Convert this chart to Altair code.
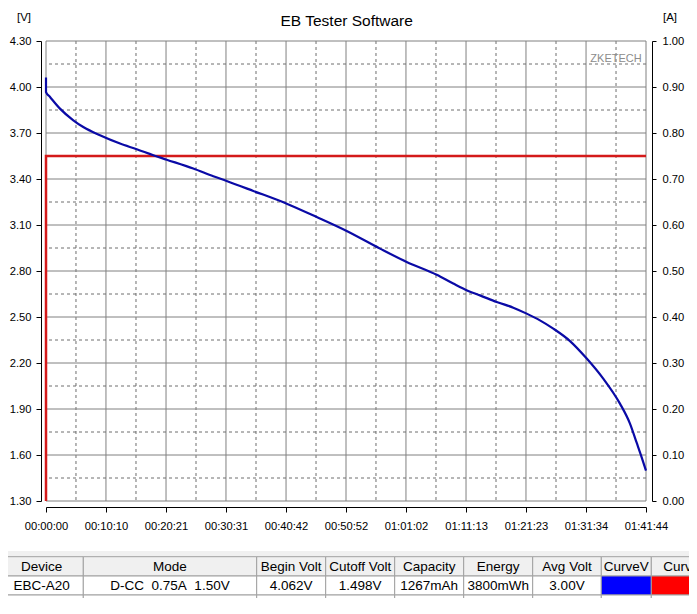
import json
import altair as alt
import pandas as pd

# ---------------- data ----------------
title_text = "EB Tester Software"
v_unit = "[V]"
a_unit = "[A]"
watermark = "ZKETECH"

# voltage curve (seconds, volts)
time_s = [0, 0, 41, 142, 278, 379, 549, 753, 923, 1092, 1228, 1498, 1702, 1838,
          2109, 2449, 2754, 3059, 3398, 3669, 3975, 4143, 4296, 4415, 4585, 4754,
          4890, 5025, 5161, 5331, 5501, 5669, 5839, 5941, 6009, 6060, 6104]
volts = [4.062, 3.967, 3.935, 3.859, 3.783, 3.739, 3.685, 3.631, 3.594, 3.555,
         3.526, 3.468, 3.418, 3.387, 3.322, 3.239, 3.152, 3.061, 2.946, 2.859,
         2.775, 2.718, 2.670, 2.641, 2.598, 2.561, 2.522, 2.478, 2.424, 2.343,
         2.229, 2.098, 1.935, 1.805, 1.680, 1.585, 1.498]

# current curve (seconds, amps)
cur_time_s = [0, 0, 6104]
amps = [0.0, 0.75, 0.75]

time_tick_labels = ["00:00:00", "00:10:10", "00:20:21", "00:30:31", "00:40:42",
                    "00:50:52", "01:01:02", "01:11:13", "01:21:23", "01:31:34",
                    "01:41:44"]
volt_ticks = [1.30, 1.60, 1.90, 2.20, 2.50, 2.80, 3.10, 3.40, 3.70, 4.00, 4.30]
amp_ticks = [0.00, 0.10, 0.20, 0.30, 0.40, 0.50, 0.60, 0.70, 0.80, 0.90, 1.00]

table_headers = ["Device", "Mode", "Begin Volt", "Cutoff Volt", "Capacity",
                 "Energy", "Avg Volt", "CurveV", "CurveA"]
table_row = ["EBC-A20", "D-CC\u00a0 0.75A\u00a0 1.50V", "4.062V", "1.498V",
             "1267mAh", "3800mWh", "3.00V", "", ""]
curve_swatch = {"CurveV": "#0000ff", "CurveA": "#ff0000"}

# ---------------- derived ----------------
def to_sec(s):
    h, m, sec = (int(p) for p in s.split(":"))
    return h * 3600 + m * 60 + sec

time_ticks = [to_sec(s) for s in time_tick_labels]
time_minor = [(a + b) / 2 for a, b in zip(time_ticks[:-1], time_ticks[1:])]
volt_minor = [(a + b) / 2 for a, b in zip(volt_ticks[:-1], volt_ticks[1:])]

v_df = pd.DataFrame({"t": time_s, "v": volts, "i": range(len(time_s))})
a_df = pd.DataFrame({"t": cur_time_s, "a": amps, "i": range(len(cur_time_s))})

# ---------------- style / layout ----------------
W, H = 600, 460
PAD_L, PAD_T = 38, 33
TOTAL_W, TOTAL_H = 681, 590
SANS = "Liberation Sans, Arial, sans-serif"
AX_FS = 11.2
GRID = "#808080"
GRID_MINOR = "#6e6e6e"

t_scale = alt.Scale(domain=[0, time_ticks[-1]], nice=False, zero=False)
v_scale = alt.Scale(domain=[volt_ticks[0], volt_ticks[-1]], nice=False, zero=False)
a_scale = alt.Scale(domain=[amp_ticks[0], amp_ticks[-1]], nice=False, zero=False)

# grid
vminor = alt.Chart(pd.DataFrame({"t": time_minor})).mark_rule(
    color=GRID_MINOR, strokeWidth=1, strokeDash=[3, 3]).encode(
    x=alt.X("t:Q", scale=t_scale, axis=None))
vmajor = alt.Chart(pd.DataFrame({"t": time_ticks})).mark_rule(
    color=GRID, strokeWidth=1).encode(
    x=alt.X("t:Q", scale=t_scale, axis=None))
hminor = alt.Chart(pd.DataFrame({"v": volt_minor})).mark_rule(
    color=GRID_MINOR, strokeWidth=1, strokeDash=[3, 3]).encode(
    y=alt.Y("v:Q", scale=v_scale, axis=None))
hmajor = alt.Chart(pd.DataFrame({"v": volt_ticks})).mark_rule(
    color=GRID, strokeWidth=1).encode(
    y=alt.Y("v:Q", scale=v_scale, axis=None))
grid = alt.layer(vminor, vmajor, hminor, hmajor)

# current line (right axis)
cur = alt.Chart(a_df).mark_line(color="#d41a1a", strokeWidth=2.5).encode(
    x=alt.X("t:Q", scale=t_scale, axis=None),
    y=alt.Y("a:Q", scale=a_scale, axis=alt.Axis(
        orient="right", values=amp_ticks, format=".2f", grid=False, title=None,
        offset=6, tickSize=4, tickColor="black", domainColor="black",
        labelPadding=6, labelFont=SANS, labelFontSize=AX_FS, labelColor="black",
        labelOverlap=False, labelFlush=False)),
    order="i:Q")

x_label_expr = f"{json.dumps(time_tick_labels)}[indexof({json.dumps(time_ticks)}, datum.value)]"

volt = alt.Chart(v_df).mark_line(color="#0a0aa6", strokeWidth=2.2,
                                 interpolate="monotone").encode(
    x=alt.X("t:Q", scale=t_scale, axis=alt.Axis(
        values=time_ticks, labelExpr=x_label_expr, grid=False, title=None,
        offset=6, tickSize=5, tickColor="black", domainColor="black",
        labelPadding=8, labelFont=SANS, labelFontSize=AX_FS, labelColor="black",
        labelOverlap=False, labelFlush=False)),
    y=alt.Y("v:Q", scale=v_scale, axis=alt.Axis(
        orient="left", values=volt_ticks, format=".2f", grid=False, title=None,
        offset=5, tickSize=5, tickColor="black", domainColor="black",
        labelPadding=5, labelFont=SANS, labelFontSize=AX_FS, labelColor="black",
        labelOverlap=False, labelFlush=False)),
    order="i:Q")

# ---------------- table ----------------
col_edges = [0, 83.3, 256.7, 325.7, 394.7, 463.7, 532.7, 601.3, 651.3, 720]
band = (551, 556.7)
row_edges = [556.7, 576, 595, 613]

cells = []
for j, name in enumerate(table_headers):
    x0, x1 = col_edges[j], col_edges[j + 1]
    cells.append({"x": x0, "x2": x1, "y": row_edges[0], "y2": row_edges[1],
                  "fill": "#f0f0f0", "txt": name})
    cells.append({"x": x0, "x2": x1, "y": row_edges[1], "y2": row_edges[2],
                  "fill": curve_swatch.get(name, "#ffffff"), "txt": table_row[j]})
    cells.append({"x": x0, "x2": x1, "y": row_edges[2], "y2": row_edges[3],
                  "fill": "#ffffff", "txt": ""})
cells_df = pd.DataFrame(cells)
cells_df["cx"] = (cells_df["x"] + cells_df["x2"]) / 2
cells_df["cy"] = (cells_df["y"] + cells_df["y2"]) / 2 + 0.5

tx_scale = alt.Scale(domain=[0, 697], range=[-PAD_L - 8, 697 - PAD_L - 8], nice=False, zero=False)
ty_scale = alt.Scale(domain=[0, 614], range=[-PAD_T - 8, 614 - PAD_T - 8], nice=False, zero=False)

band_df = pd.DataFrame({"x": [0], "x2": [720], "y": [band[0]], "y2": [band[1]]})
band_c = alt.Chart(band_df).mark_rect(color="#f0f0f0").encode(
    x=alt.X("x:Q", scale=tx_scale, axis=None), x2="x2:Q",
    y=alt.Y("y:Q", scale=ty_scale, axis=None), y2="y2:Q")
rects = alt.Chart(cells_df).mark_rect(stroke="#a0a0a0", strokeWidth=1).encode(
    x=alt.X("x:Q", scale=tx_scale, axis=None), x2="x2:Q",
    y=alt.Y("y:Q", scale=ty_scale, axis=None), y2="y2:Q",
    fill=alt.Fill("fill:N", scale=None))
texts = alt.Chart(cells_df).mark_text(
    font=SANS, fontSize=13.5, color="black", align="center", baseline="middle").encode(
    x=alt.X("cx:Q", scale=tx_scale, axis=None),
    y=alt.Y("cy:Q", scale=ty_scale, axis=None),
    text="txt:N")
table = alt.layer(band_c, rects, texts)

# ---------------- annotations ----------------
def label(text, x, y, font, size, color="black", align="center", baseline="middle"):
    return alt.Chart(pd.DataFrame({"s": [text]})).mark_text(
        font=font, fontSize=size, color=color, align=align, baseline=baseline).encode(
        text="s:N", x=alt.value(x), y=alt.value(y))

title_c = label(title_text, 300.7, -15.3, SANS, 15.5, baseline="alphabetic")
vunit_c = label(v_unit, -22, -23, SANS, 11.5)
aunit_c = label(a_unit, 624, -23, SANS, 11.5)
wm_c = label(watermark, 595.7, 20.7, SANS, 11, color="#8c8c8c",
             align="right", baseline="alphabetic")

chart = alt.layer(grid, cur, volt, table, title_c, vunit_c, aunit_c, wm_c).resolve_scale(
    x="independent", y="independent"
).properties(
    width=W, height=H,
    padding={"left": PAD_L, "top": PAD_T, "right": TOTAL_W - PAD_L - W,
             "bottom": TOTAL_H - PAD_T - H},
    autosize=alt.AutoSizeParams(type="none"),
    background="white",
).configure_view(strokeWidth=0)

chart.save("out.html", embed_options={"renderer": "svg", "actions": False})
